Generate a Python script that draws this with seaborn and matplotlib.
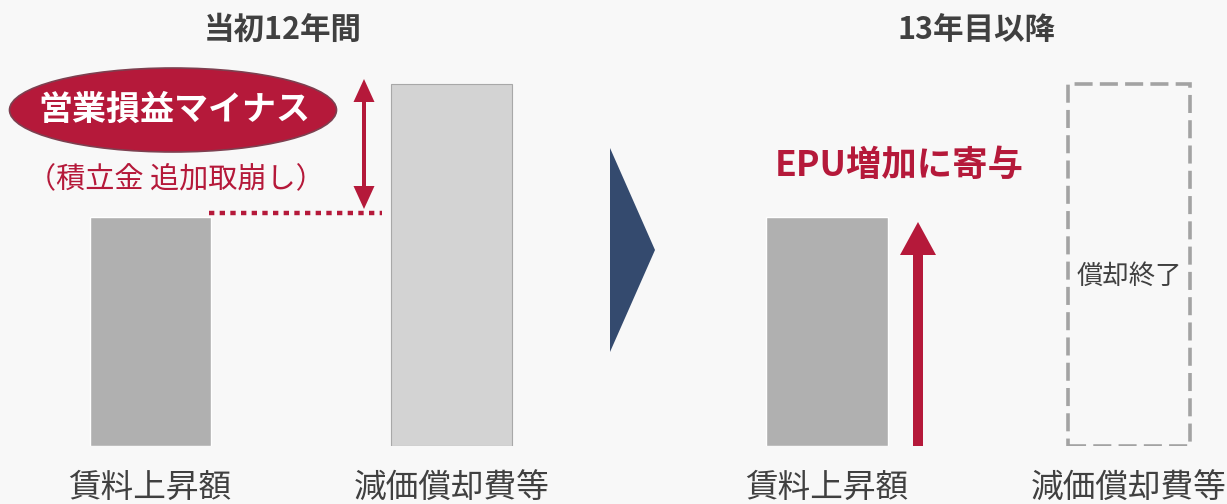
import matplotlib
matplotlib.use("Agg")
import matplotlib.pyplot as plt
import seaborn as sns
import pandas as pd
from matplotlib.patches import Ellipse, Polygon

sns.set_theme(style="white")
plt.rcParams['font.family'] = ['Noto Sans CJK JP', 'DejaVu Sans']

# ---- data ----
categories = ["賃料上昇額", "減価償却費等"]
first12_values = [1.0, 1.58]      # 当初12年間
after13_values = [1.0, 1.58]      # 13年目以降 (償却終了: outline only)
panel_titles = ["当初12年間", "13年目以降"]
bar_colors = ["#b0b0b0", "#d3d3d3"]
after_colors = ["#b0b0b0", "#f8f8f8"]

BG = "#f8f8f8"
RED = "#b5193a"
DARK = "#404040"
NAVY = "#344a6e"

W, H = 1227, 504
fig = plt.figure(figsize=(W / 100, H / 100), dpi=100, facecolor=BG)

base_px = 446          # baseline (pixels from top)
unit_px = 229          # pixels per value unit
ytop = base_px / unit_px

def bar_axes(left_px, right_px, xlo, xhi, values, colors):
    ax = fig.add_axes([left_px / W, (H - base_px) / H, (right_px - left_px) / W, base_px / H])
    df = pd.DataFrame({"cat": categories, "val": values})
    sns.barplot(data=df, x="cat", y="val", hue="cat", palette=colors, legend=False,
                width=0.402, ax=ax, saturation=1)
    ax.set_xlim(xlo, xhi)
    ax.set_ylim(0, ytop)
    ax.set_facecolor("none")
    for s in ax.spines.values():
        s.set_visible(False)
    ax.set_xlabel("")
    ax.set_ylabel("")
    ax.set_yticks([])
    ax.tick_params(axis="x", length=0, pad=19, labelsize=23.5, labelcolor=DARK)
    return ax

ax1 = bar_axes(0, 602, -150 / 301, 1.5, first12_values, bar_colors)
ax1.patches[1].set_edgecolor("#a8a8a8")
ax1.patches[1].set_linewidth(0.8)

ax2 = bar_axes(676, 1227, -151 / 302, 400 / 302, after13_values, after_colors)
p = ax2.patches[1]
p.set_facecolor("none")
p.set_edgecolor("#a3a3a3")
p.set_linestyle((0, (5, 2)))
p.set_linewidth(2.6)

# ---- overlay in pixel coordinates ----
ov = fig.add_axes([0, 0, 1, 1])
ov.set_xlim(0, W)
ov.set_ylim(H, 0)
ov.axis("off")
ov.set_facecolor("none")

ov.text(283, 30, panel_titles[0], ha="center", va="center", fontsize=22,
        fontweight="bold", color=DARK)
ov.text(976, 30, panel_titles[1], ha="center", va="center", fontsize=22,
        fontweight="bold", color=DARK)

ov.add_patch(Ellipse((173, 110), 327, 84, facecolor=RED, edgecolor="#7d4050", lw=1.2))
ov.text(174, 109, "営業損益マイナス", ha="center", va="center", fontsize=24.5,
        fontweight="bold", color="white")
ov.text(176, 180, "（積立金 追加取崩し）", ha="center", va="center", fontsize=21,
        color=RED)

# double arrow
ov.arrow(364, 145, 0, -66, width=4, head_width=21, head_length=23,
         length_includes_head=True, color=RED, lw=0)
ov.arrow(364, 145, 0, 64, width=4, head_width=21, head_length=23,
         length_includes_head=True, color=RED, lw=0)
# dotted line
ov.plot([209, 382], [213, 213], color=RED, lw=3.2, linestyle=(0, (1.2, 1.2)),
        solid_capstyle="butt", dash_capstyle="butt")

# navy triangle
ov.add_patch(Polygon([[610, 148], [655, 250], [610, 352]], closed=True,
                     facecolor=NAVY, edgecolor="none"))

ov.text(899, 165, "EPU増加に寄与", ha="center", va="center", fontsize=25.5,
        fontweight="bold", color=RED)
ov.arrow(918, 446, 0, -224, width=10, head_width=36, head_length=33,
         length_includes_head=True, color=RED, lw=0)

ov.text(1129, 276, "償却終了", ha="center", va="center", fontsize=19, color=DARK)

fig.savefig("out.png", dpi=100, facecolor=BG)
